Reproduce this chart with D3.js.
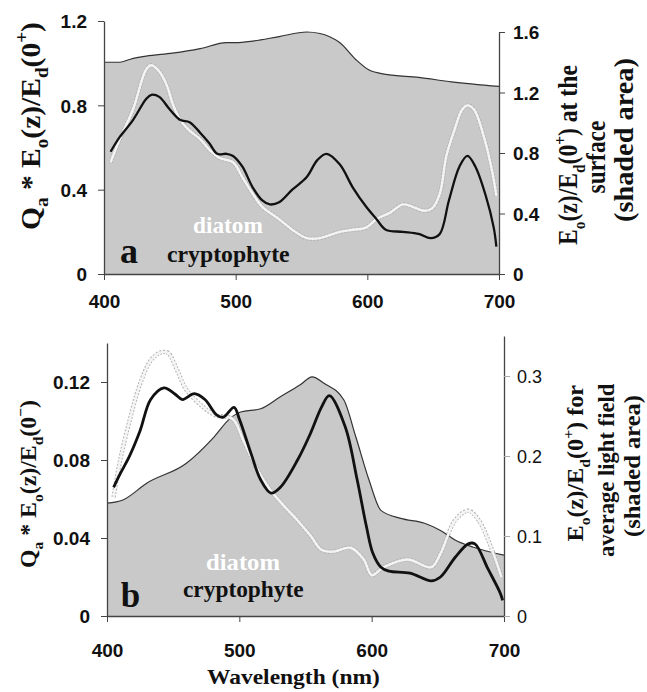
<!DOCTYPE html>
<html><head><meta charset="utf-8">
<script src="https://cdn.jsdelivr.net/npm/d3@7"></script>
<style>body{margin:0;background:#fff} svg{display:block}</style>
</head><body>
<svg id="c" width="647" height="692"></svg>
<script>
// ---------- DATA ----------
const xTicks = [400, 500, 600, 700];
const topLeftTicks = [0, 0.4, 0.8, 1.2];
const topRightTicks = [0, 0.4, 0.8, 1.2, 1.6];
const botLeftTicks = [0, 0.04, 0.08, 0.12];
const botRightTicks = [0, 0.1, 0.2, 0.3];

const topShadeWl  = [400,412,420,432,452,473,493,500,513,533,554,564,571,579,591,601,614,639,664,700];
const topShadeVal = [1.40,1.40,1.42,1.44,1.46,1.49,1.53,1.53,1.54,1.57,1.60,1.59,1.57,1.53,1.42,1.35,1.32,1.30,1.27,1.24];

const topCryptoWl  = [405,412,422,432,436,442,450,458,465,473,480,486,493,498,505,513,520,526,533,543,554,562,569,579,589,599,607,614,627,639,648,655,662,670,676,682,690,696,698];
const topCryptoVal = [0.58,0.65,0.73,0.83,0.85,0.84,0.78,0.73,0.72,0.67,0.62,0.57,0.57,0.56,0.51,0.41,0.35,0.33,0.34,0.40,0.46,0.54,0.57,0.52,0.41,0.32,0.26,0.21,0.20,0.19,0.17,0.19,0.35,0.51,0.56,0.51,0.37,0.22,0.13];

const topDiatomWl  = [405,412,422,432,436,442,448,452,458,465,473,480,488,498,505,513,520,533,543,554,564,579,589,599,607,617,627,634,643,649,655,660,666,672,676,681,689,695,698];
const topDiatomVal = [0.53,0.64,0.78,0.97,0.99,0.96,0.89,0.81,0.73,0.68,0.64,0.59,0.55,0.53,0.46,0.38,0.32,0.26,0.21,0.17,0.17,0.20,0.21,0.22,0.26,0.29,0.33,0.32,0.30,0.31,0.38,0.56,0.68,0.78,0.80,0.78,0.64,0.48,0.37];

const botShadeWl  = [400,412,430,460,481,493,501,516,531,546,555,564,579,588,598,607,622,640,652,663,677,700];
const botShadeVal = [0.141,0.145,0.166,0.191,0.224,0.247,0.255,0.259,0.274,0.289,0.299,0.291,0.270,0.224,0.170,0.132,0.122,0.116,0.107,0.095,0.086,0.076];

const botCryptoWl  = [405,410,417,425,433,443,451,457,466,474,483,488,496,500,509,516,524,531,544,554,562,568,580,589,596,601,607,613,629,645,652,663,673,678,688,697,699];
const botCryptoVal = [0.066,0.073,0.082,0.095,0.111,0.117,0.114,0.111,0.114,0.111,0.103,0.102,0.107,0.101,0.083,0.070,0.063,0.066,0.080,0.094,0.107,0.113,0.097,0.070,0.046,0.032,0.025,0.023,0.022,0.018,0.020,0.030,0.037,0.037,0.024,0.012,0.008];

const botDiatomWl  = [405,410,417,425,433,440,446,453,460,473,482,495,503,513,523,533,544,554,562,571,584,594,600,609,627,645,652,663,673,681,692,698];
const botDiatomVal = [0.061,0.080,0.100,0.119,0.131,0.135,0.135,0.126,0.116,0.107,0.103,0.101,0.090,0.076,0.065,0.057,0.049,0.041,0.034,0.033,0.035,0.029,0.021,0.025,0.029,0.025,0.032,0.049,0.054,0.049,0.032,0.020];

// ---------- SETUP ----------
const svg = d3.select("#c");
const SERIF = "Liberation Serif";
const SANS = "Liberation Sans";
const zip = (a, b) => a.map((w, i) => ({w, v: b[i]}));

function panel(cfg) {
  const g = svg.append("g");
  const x = d3.scaleLinear().domain([400, 700]).range(cfg.xr);
  const yL = d3.scaleLinear().domain(cfg.yLd).range(cfg.yLr);
  const yR = d3.scaleLinear().domain(cfg.yRd).range(cfg.yRr);

  const shade = zip(cfg.shadeWl, cfg.shadeVal);
  g.append("path").datum(shade)
    .attr("d", d3.area().x(d => x(d.w)).y0(yR(0)).y1(d => yR(d.v)).curve(d3.curveMonotoneX))
    .attr("fill", "#c9c9c9");
  g.append("path").datum(shade)
    .attr("d", d3.line().x(d => x(d.w)).y(d => yR(d.v)).curve(d3.curveMonotoneX))
    .attr("fill", "none").attr("stroke", "#333").attr("stroke-width", 1.2);

  const line = d3.line().x(d => x(d.w)).y(d => yL(d.v)).curve(d3.curveCatmullRom.alpha(0.5));
  const diat = zip(cfg.diatWl, cfg.diatVal);
  g.append("path").datum(diat).attr("d", line).attr("fill", "none")
    .attr("stroke", "#b4b4b4").attr("stroke-width", 4.4).attr("stroke-dasharray", "2,1.5");
  g.append("path").datum(diat).attr("d", line).attr("fill", "none")
    .attr("stroke", "#f4f4f4").attr("stroke-width", 2.4);
  g.append("path").datum(zip(cfg.cryWl, cfg.cryVal)).attr("d", line).attr("fill", "none")
    .attr("stroke", "#111").attr("stroke-width", cfg.cryW).attr("stroke-linejoin", "round");

  // axes
  const ax = g.append("g").attr("transform", `translate(0,${cfg.yLr[0]})`)
    .call(d3.axisBottom(x).tickValues(xTicks).tickSize(6).tickSizeOuter(0).tickFormat(d3.format("d")));
  const al = g.append("g").attr("transform", `translate(${cfg.xr[0]},0)`)
    .call(d3.axisLeft(yL).tickValues(cfg.lt).tickSize(6).tickSizeOuter(0).tickFormat(d => d === 0 ? "0" : cfg.lf(d)));
  const ar = g.append("g").attr("transform", `translate(${cfg.xr[1]},0)`)
    .call(d3.axisRight(yR).tickValues(cfg.rt).tickSize(6).tickSizeOuter(0).tickFormat(d => d === 0 ? "0" : d.toFixed(1)));
  [ax, al, ar].forEach(a => a.attr("font-family", SANS).attr("font-size", 19).attr("font-weight", "bold"));

  ax.selectAll("text").attr("y", cfg.xLabOff).attr("dy", 0).attr("fill", "#111");
  al.selectAll("text").attr("x", -17).attr("dy", "0.36em").attr("fill", "#111");
  ar.selectAll("text").attr("x", cfg.rOff).attr("dy", "0.36em").attr("fill", "#111")
    .attr("font-weight", cfg.rBold ? "bold" : "normal").attr("font-size", cfg.rFs);
  ar.selectAll(".tick line").attr("stroke", cfg.rTickCol);

  [ax, al, ar].forEach(a => a.select(".domain").attr("stroke", "#444").attr("stroke-width", 1.3));
  ax.selectAll(".tick line").attr("stroke", "#444");
  al.selectAll(".tick line").attr("stroke", "#444");
}

function richText(parts, fs, fill, cx, cy, len, vertical) {
  const g = svg.append("g").attr("transform", vertical ? `translate(${cx},${cy}) rotate(-90)` : `translate(${cx},${cy})`);
  const t = g.append("text").attr("font-family", SERIF).attr("font-weight", "bold")
    .attr("font-size", fs).attr("fill", fill);
  let shift = 0;
  parts.forEach(p => {
    const s = (typeof p === "string" ? p : p[0]).replace(/ /g, "\u00a0");
    const kind = typeof p === "string" ? "" : p[1];
    const target = kind === "sub" ? 0.28 * fs : kind === "sup" ? -0.42 * fs : 0;
    const ts = t.append("tspan").text(s).attr("dy", target - shift);
    if (kind) ts.attr("font-size", fs * 0.65);
    shift = target;
  });
  const bb = t.node().getBBox();
  const sc = len ? len / bb.width : 1;
  t.attr("transform", `scale(${sc},1) translate(${-(bb.x + bb.width / 2)},0)`);
}

// ---------- PANELS ----------
panel({xr: [104, 499], yLd: [0, 1.2], yLr: [274, 21], yRd: [0, 1.6], yRr: [274, 32],
  shadeWl: topShadeWl, shadeVal: topShadeVal, cryWl: topCryptoWl, cryVal: topCryptoVal,
  diatWl: topDiatomWl, diatVal: topDiatomVal, cryW: 2.3,
  lt: topLeftTicks, lf: d => d.toFixed(1), rt: topRightTicks, xLabOff: 34, rOff: 14, rBold: true, rFs: 19, rTickCol: "#444"});

panel({xr: [107, 504], yLd: [0, 0.14], yLr: [616, 343], yRd: [0, 0.35], yRr: [616, 336],
  shadeWl: botShadeWl, shadeVal: botShadeVal, cryWl: botCryptoWl, cryVal: botCryptoVal,
  diatWl: botDiatomWl, diatVal: botDiatomVal, cryW: 2.8,
  lt: botLeftTicks, lf: d => d.toFixed(2), rt: botRightTicks, xLabOff: 41, rOff: 13, rBold: false, rFs: 18, rTickCol: "#aaa"});

// ---------- TEXT ----------
const qTitle = sign => ["Q", ["a", "sub"], " * E", ["o", "sub"], "(z)/E", ["d", "sub"], "(0", [sign, "sup"], ")"];
const eTitle = (tail) => ["E", ["o", "sub"], "(z)/E", ["d", "sub"], "(0", ["+", "sup"], ")" + tail];

richText(qTitle("+"), 28, "#111", 40, 126, 208, true);
richText(eTitle(" at the"), 27, "#111", 577, 155, 180, true);
richText(["surface"], 27, "#111", 605, 157, 73, true);
richText(["(shaded area)"], 27, "#111", 633, 140, 164, true);

richText(qTitle("\u2212"), 24, "#111", 36, 484, 168, true);
richText(eTitle(" for"), 24, "#111", 583, 463, 157, true);
richText(["average light field"], 24, "#111", 614, 470, 174, true);
richText(["(shaded area)"], 24, "#111", 640, 466, 142, true);

richText(["Wavelength (nm)"], 22, "#111", 293.5, 684, 173, false);

richText(["diatom"], 24, "#fff", 228, 233, 70, false);
richText(["cryptophyte"], 24, "#111", 228.5, 262, 123, false);
richText(["a"], 36, "#111", 129, 263, 0, false);

richText(["diatom"], 24, "#fff", 243, 570, 74, false);
richText(["cryptophyte"], 24, "#111", 243.5, 597, 121, false);
richText(["b"], 35, "#111", 130.5, 607, 0, false);
</script></body></html>
